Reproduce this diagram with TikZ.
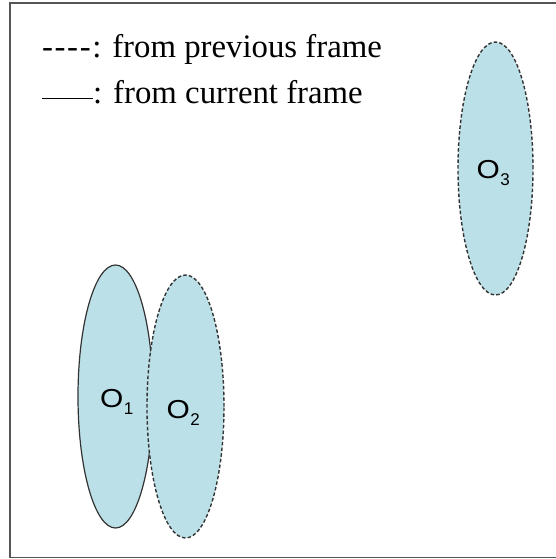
\documentclass[tikz,border=0pt]{standalone}
\usepackage{fontspec}
\setmainfont{Liberation Serif}
\newfontfamily\labelfont[FakeStretch=1.15]{Liberation Sans}
\newfontfamily\subfont{Liberation Sans}
\usetikzlibrary{shapes.geometric}
\definecolor{objfill}{HTML}{BCE0E8}
\definecolor{edgegray}{HTML}{333333}
\definecolor{framegray}{HTML}{555555}
\tikzset{
  obj/.style={ellipse, fill=objfill, draw=edgegray, line width=1.2pt, inner sep=0pt},
  prevobj/.style={obj, line width=1.4pt, dash pattern=on 3.5pt off 2.2pt},
  legend/.style={anchor=base west, inner sep=0pt, font=\fontsize{32.8}{38}\selectfont},
  objlabel/.style={anchor=base west, inner sep=0pt, font=\labelfont\fontsize{26}{30}\selectfont}
}
\newcommand{\objsub}[1]{\kern0.5pt\raisebox{-7pt}{\subfont\fontsize{17}{20}\selectfont #1}}
\newcommand{\hy}{\mbox{-}\kern1.6pt}
\begin{document}
\begin{tikzpicture}[x=1pt,y=-1pt]
\useasboundingbox (0,0) rectangle (555,559);
\draw[framegray, line width=1.8pt] (560,3) -- (10,3) -- (10,557.5) -- (560,557.5);
\node[legend] (l1) at (42,57.5) {\hy\hy\hy\hy: from previous frame};
\node[legend] (l2) at (42,103) {\rule[3.5pt]{51pt}{1.8pt}: from current frame};
\node[obj, minimum width=75pt, minimum height=263pt] (e1) at (115.5,396.5) {};
\node[prevobj, minimum width=77pt, minimum height=263pt] (e2) at (185.5,406.5) {};
\node[prevobj, minimum width=75pt, minimum height=253pt] (e3) at (495.5,168.5) {};
\node[objlabel] (t1) at (100,407) {O\objsub{1}};
\node[objlabel] (t2) at (166.5,418) {O\objsub{2}};
\node[objlabel] (t3) at (476.5,178.5) {O\objsub{3}};
\end{tikzpicture}
\end{document}
